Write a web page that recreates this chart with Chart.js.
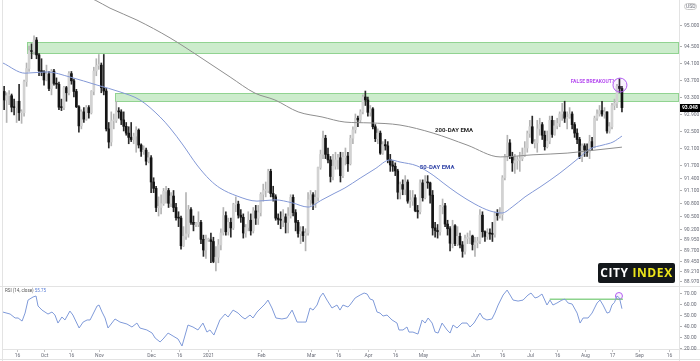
<!DOCTYPE html>
<html>
<head>
<meta charset="UTF-8">
<title>US Dollar Index - daily</title>
<script src="https://cdn.jsdelivr.net/npm/chart.js"></script>
<style>
  html, body { margin: 0; padding: 0; background: #fff; }
  #wrap { position: relative; width: 700px; height: 361px; overflow: hidden; }
  #priceChart { position: absolute; left: 0; top: 0; }
  #rsiChart { position: absolute; left: 0; top: 286px; }
</style>
</head>
<body>
<div id="wrap">
  <canvas id="priceChart" width="700" height="286"></canvas>
  <canvas id="rsiChart" width="700" height="75"></canvas>
</div>
<script>
// daily candles, index 0 = 7 Sep 2020 (one slot per weekday)
const opens = [
  92.74, 93.04, 93.43, 93.23, 93.33, 93.33, 93.06, 93.05, 93.20, 92.93,
  92.93, 93.66, 93.97, 94.39, 94.37, 94.64, 94.29, 93.92, 93.89, 93.70,
  93.84, 93.50, 93.91, 93.62, 93.60, 93.06, 93.05, 93.52, 93.40, 93.85,
  93.68, 93.43, 93.07, 92.62, 92.95, 92.78, 93.05, 92.93, 93.43, 93.91,
  94.04, 94.05, 93.52, 93.44, 92.55, 92.24, 92.74, 92.75, 92.97, 92.95,
  92.76, 92.61, 92.45, 92.35, 92.30, 92.38, 92.52, 92.17, 92.02, 92.05,
  91.79, 91.87, 91.30, 91.15, 90.70, 90.70, 90.79, 91.08, 91.10, 90.80,
  90.97, 90.70, 90.46, 90.45, 89.80, 90.02, 90.08, 90.65, 90.35, 90.30,
  90.30, 90.35, 89.95, 89.70, 89.94, 89.94, 89.90, 89.43, 89.53, 89.82,
  90.10, 90.51, 90.13, 90.35, 90.22, 90.77, 90.78, 90.52, 90.47, 90.10,
  90.23, 90.40, 90.15, 90.62, 90.45, 90.58, 91.01, 91.10, 91.10, 91.55,
  91.03, 90.95, 90.45, 90.42, 90.40, 90.48, 90.35, 90.50, 90.94, 90.58,
  90.35, 90.09, 90.13, 90.04, 90.10, 90.88, 91.00, 90.80, 90.94, 91.64,
  91.95, 92.33, 91.95, 91.82, 91.43, 91.67, 91.82, 91.87, 91.45, 91.88,
  91.91, 91.73, 92.33, 92.53, 92.80, 92.76, 92.95, 93.30, 93.23, 92.94,
  93.02, 92.60, 92.32, 92.45, 91.98, 92.18, 92.15, 91.83, 91.70, 91.67,
  91.56, 91.06, 91.24, 91.13, 91.30, 90.85, 90.85, 90.93, 90.63, 90.60,
  91.28, 90.93, 91.30, 91.28, 90.99, 90.22, 90.16, 90.13, 90.72, 90.74,
  90.31, 90.20, 89.86, 90.27, 89.85, 90.02, 89.82, 89.67, 89.97, 90.00,
  90.03, 89.83, 89.87, 89.91, 90.52, 90.13, 90.02, 90.09, 90.08, 90.07,
  90.56, 90.51, 90.53, 91.40, 91.90, 92.22, 91.90, 91.75, 91.80, 91.81,
  91.85, 91.94, 92.10, 92.44, 92.60, 92.22, 92.22, 92.55, 92.65, 92.40,
  92.13, 92.26, 92.75, 92.42, 92.62, 92.68, 92.90, 92.95, 92.80, 92.82,
  92.90, 92.65, 92.45, 92.30, 91.90, 92.15, 92.05, 92.00, 92.25, 92.12,
  92.80, 92.90, 92.98, 92.90, 92.95, 92.50, 92.60, 93.10, 93.15, 93.55,
  93.50
];
const highs = [
  93.08, 93.50, 93.55, 93.40, 93.45, 93.37, 93.25, 93.15, 93.60, 93.00,
  93.70, 94.10, 94.50, 94.55, 94.74, 94.70, 94.32, 94.20, 93.92, 94.05,
  93.90, 93.95, 93.95, 93.75, 93.65, 93.25, 93.55, 93.55, 93.90, 93.90,
  93.72, 93.48, 93.10, 93.00, 93.05, 93.10, 93.10, 93.45, 94.00, 94.20,
  94.30, 94.10, 94.30, 93.50, 92.70, 92.95, 92.90, 93.20, 93.05, 93.00,
  92.95, 92.70, 92.60, 92.70, 92.45, 92.60, 92.55, 92.20, 92.15, 92.10,
  92.00, 91.92, 91.40, 91.20, 90.95, 91.00, 91.15, 91.20, 91.15, 91.05,
  91.10, 90.80, 90.60, 90.50, 90.25, 91.05, 90.75, 90.70, 90.50, 90.35,
  90.60, 90.40, 90.05, 90.05, 89.98, 90.10, 90.00, 89.78, 89.95, 90.20,
  90.70, 90.60, 90.45, 90.45, 90.80, 90.95, 90.85, 90.65, 90.55, 90.30,
  90.60, 90.55, 90.70, 90.75, 90.75, 91.05, 91.25, 91.30, 91.60, 91.60,
  91.20, 91.00, 90.55, 90.60, 90.65, 90.55, 90.70, 91.00, 91.00, 90.65,
  90.40, 90.25, 90.25, 90.20, 91.05, 91.10, 91.05, 91.10, 91.65, 92.05,
  92.50, 92.40, 92.10, 91.90, 91.95, 92.00, 91.95, 92.00, 92.00, 92.10,
  92.00, 92.40, 92.60, 92.90, 92.85, 93.00, 93.35, 93.44, 93.30, 93.10,
  93.05, 92.65, 92.55, 92.50, 92.25, 92.30, 92.25, 91.95, 91.80, 91.75,
  91.60, 91.30, 91.35, 91.45, 91.35, 91.10, 91.10, 91.00, 90.75, 91.35,
  91.35, 91.45, 91.45, 91.30, 91.10, 90.35, 90.30, 90.75, 90.90, 90.80,
  90.40, 90.25, 90.40, 90.30, 90.25, 90.10, 89.90, 90.05, 90.10, 90.15,
  90.05, 90.00, 90.00, 90.65, 90.60, 90.15, 90.20, 90.20, 90.35, 90.60,
  90.65, 90.70, 91.45, 91.95, 92.40, 92.30, 92.00, 91.95, 91.90, 92.00,
  92.10, 92.25, 92.50, 92.75, 92.85, 92.30, 92.75, 92.80, 92.70, 92.50,
  92.50, 92.85, 92.85, 92.75, 92.80, 92.95, 93.15, 93.20, 92.95, 93.05,
  92.95, 92.70, 92.55, 92.35, 92.20, 92.20, 92.20, 92.40, 92.35, 92.85,
  93.00, 93.10, 93.20, 93.05, 92.95, 92.70, 93.15, 93.25, 93.60, 93.73,
  93.55
];
const lows = [
  92.70, 92.95, 93.00, 92.70, 93.12, 92.95, 92.88, 92.70, 92.75, 92.68,
  92.85, 93.55, 93.90, 94.20, 94.30, 94.20, 93.80, 93.80, 93.58, 93.68,
  93.45, 93.35, 93.58, 93.50, 93.00, 92.98, 93.00, 93.20, 93.35, 93.60,
  93.30, 93.05, 92.47, 92.55, 92.70, 92.75, 92.80, 92.90, 93.35, 93.80,
  93.95, 93.40, 93.35, 92.50, 92.10, 92.15, 92.55, 92.70, 92.80, 92.65,
  92.50, 92.40, 92.20, 92.25, 92.20, 92.00, 92.10, 91.90, 91.95, 91.70,
  91.75, 91.05, 91.05, 90.60, 90.50, 90.55, 90.75, 90.80, 90.70, 90.72,
  90.60, 90.40, 90.25, 89.72, 89.78, 89.95, 90.00, 90.30, 90.15, 90.25,
  90.25, 89.85, 89.55, 89.50, 89.90, 89.40, 89.40, 89.21, 89.40, 89.70,
  90.05, 90.05, 90.05, 90.00, 90.18, 90.60, 90.45, 90.35, 89.98, 90.00,
  90.15, 90.05, 90.10, 90.30, 90.30, 90.50, 90.85, 90.95, 91.05, 90.95,
  90.85, 90.40, 90.30, 90.20, 90.25, 90.10, 90.10, 90.45, 90.50, 90.15,
  90.00, 89.85, 89.90, 89.68, 90.05, 90.75, 90.65, 90.70, 90.85, 91.60,
  91.85, 91.85, 91.75, 91.30, 91.35, 91.60, 91.60, 91.30, 91.40, 91.70,
  91.55, 91.70, 92.20, 92.45, 92.60, 92.70, 92.90, 93.10, 92.85, 92.85,
  92.55, 92.25, 92.20, 91.95, 91.95, 92.05, 91.75, 91.55, 91.55, 91.45,
  90.90, 90.90, 91.00, 91.00, 90.80, 90.70, 90.75, 90.60, 90.45, 90.55,
  90.85, 90.90, 91.15, 90.80, 90.05, 90.00, 89.98, 90.05, 90.55, 90.25,
  90.05, 89.68, 89.75, 89.80, 89.80, 89.75, 89.53, 89.60, 89.85, 89.85,
  89.70, 89.55, 89.75, 89.85, 90.00, 89.90, 89.95, 89.95, 89.90, 90.00,
  90.40, 90.45, 90.40, 91.35, 91.80, 91.85, 91.55, 91.50, 91.60, 91.55,
  91.80, 91.90, 92.00, 92.35, 92.20, 92.10, 92.00, 92.40, 92.30, 92.05,
  92.10, 92.20, 92.35, 92.40, 92.55, 92.60, 92.75, 92.70, 92.55, 92.80,
  92.55, 92.35, 92.20, 91.85, 91.78, 91.90, 91.90, 91.85, 92.05, 92.10,
  92.75, 92.85, 92.85, 92.80, 92.45, 92.45, 92.55, 93.00, 93.05, 93.40,
  92.95
];
const closes = [
  93.04, 93.43, 93.23, 93.33, 93.33, 93.06, 93.05, 93.20, 92.93, 92.93,
  93.66, 93.97, 94.39, 94.37, 94.64, 94.29, 93.92, 93.89, 93.70, 93.84,
  93.50, 93.91, 93.62, 93.60, 93.06, 93.05, 93.52, 93.40, 93.85, 93.68,
  93.43, 93.07, 92.62, 92.95, 92.78, 93.05, 92.93, 93.43, 93.91, 94.04,
  94.05, 93.52, 93.44, 92.55, 92.24, 92.74, 92.75, 92.97, 92.95, 92.76,
  92.61, 92.45, 92.35, 92.30, 92.38, 92.52, 92.17, 92.02, 92.05, 91.79,
  91.87, 91.30, 91.15, 90.70, 90.70, 90.79, 91.08, 91.10, 90.80, 90.97,
  90.70, 90.46, 90.45, 89.80, 90.02, 90.08, 90.65, 90.35, 90.30, 90.30,
  90.35, 89.95, 89.70, 89.94, 89.94, 89.90, 89.43, 89.53, 89.82, 90.10,
  90.51, 90.13, 90.35, 90.22, 90.77, 90.78, 90.52, 90.47, 90.10, 90.23,
  90.40, 90.15, 90.62, 90.45, 90.58, 91.01, 91.10, 91.10, 91.55, 91.03,
  90.95, 90.45, 90.42, 90.40, 90.48, 90.35, 90.50, 90.94, 90.58, 90.35,
  90.09, 90.13, 90.04, 90.10, 90.88, 91.00, 90.80, 90.94, 91.64, 91.95,
  92.33, 91.95, 91.82, 91.43, 91.67, 91.82, 91.87, 91.45, 91.88, 91.91,
  91.73, 92.33, 92.53, 92.80, 92.76, 92.95, 93.30, 93.23, 92.94, 93.02,
  92.60, 92.32, 92.45, 91.98, 92.18, 92.15, 91.83, 91.70, 91.67, 91.56,
  91.06, 91.24, 91.13, 91.30, 90.85, 90.85, 90.93, 90.63, 90.60, 91.28,
  90.93, 91.30, 91.28, 90.99, 90.22, 90.16, 90.13, 90.72, 90.74, 90.31,
  90.20, 89.86, 90.27, 89.85, 90.02, 89.82, 89.67, 89.97, 90.00, 90.03,
  89.83, 89.87, 89.91, 90.52, 90.13, 90.02, 90.09, 90.08, 90.07, 90.56,
  90.51, 90.53, 91.40, 91.90, 92.22, 91.90, 91.75, 91.80, 91.81, 91.85,
  91.94, 92.10, 92.44, 92.60, 92.22, 92.22, 92.55, 92.65, 92.40, 92.13,
  92.26, 92.75, 92.42, 92.62, 92.68, 92.90, 92.95, 92.80, 92.82, 92.90,
  92.65, 92.45, 92.30, 91.90, 92.15, 92.05, 92.00, 92.25, 92.12, 92.80,
  92.90, 92.98, 92.90, 92.95, 92.50, 92.60, 93.10, 93.15, 93.55, 93.50,
  93.05
];
const lastPriceText = '93.048';

// moving averages (trading-day index -> value)
const ema200Idx = [30.4, 38.5, 44.5, 55.3, 68.6, 80.6, 92.7, 102.7, 110.7, 120, 129.6, 138.8, 148.9, 160.9, 174.2, 187.8, 201.1, 214.3, 228, 236, 250];
const ema200Val = [95.77, 95.58, 95.39, 95.11, 94.69, 94.24, 93.77, 93.39, 93.23, 92.95, 92.83, 92.71, 92.69, 92.64, 92.45, 92.17, 91.89, 91.94, 91.98, 92.03, 92.12];
const ema50Idx = [1.5, 10.4, 19.2, 28.4, 39.3, 48.5, 56.5, 64.6, 68.6, 73.8, 79.4, 84.6, 88.6, 95.5, 103.5, 110.7, 117.6, 124, 129.6, 134.8, 138.8, 144.9, 150.9, 156.9, 160.9, 167.7, 174.2, 178.2, 183.8, 191, 197, 201.9, 205.9, 211.1, 217.1, 225.1, 233.2, 237.2, 242.4, 246.4, 250];
const ema50Val = [94.10, 93.86, 93.89, 93.77, 93.58, 93.42, 93.23, 92.83, 92.57, 92.17, 91.70, 91.35, 91.16, 90.97, 90.85, 90.88, 90.81, 90.71, 90.88, 91.04, 91.16, 91.39, 91.61, 91.82, 91.77, 91.68, 91.46, 91.28, 91.04, 90.78, 90.62, 90.57, 90.71, 90.95, 91.18, 91.51, 91.89, 92.08, 92.17, 92.24, 92.38];

// RSI (14)
const rsiIdx = [1.5, 4.4, 6.4, 7.6, 9.2, 10.4, 11.6, 13.6, 14.8, 15.6, 17.2, 18.4, 19.6, 21.2, 22.4, 23.6, 25.2, 26.4, 28.4, 29.6,
  32.1, 33.7, 35.3, 36.5, 39.3, 40.1, 41.3, 42.5, 43.7, 46.5, 48.5, 51.3, 53.3, 55.3, 56.5, 59.3, 61.4, 62.6, 64.6, 65.8,
  67.8, 69.8, 71.8, 73.4, 75.8, 77.8, 79.8, 81.8, 83.4, 84.6, 86.2, 88.6, 90.7, 91.9, 93.9, 95.9, 97.5, 98.7, 100.7, 101.9,
  103.5, 105.5, 106.7, 107.9, 109.5, 111.1, 113.5, 115.5, 117.6, 119.6, 121.6, 123.2, 124.8, 126, 127.6, 128.8, 130, 131.6, 133.6, 135.6,
  136.8, 138, 140, 140.8, 142.9, 144.9, 146.5, 147.7, 148.9, 150.1, 151.7, 152.9, 154.1, 155.7, 157.7, 159.7, 160.5, 162.1, 163.7, 164.5,
  166.1, 168.1, 169.8, 171, 172.2, 173.8, 175, 176.2, 177.8, 179.8, 181, 182.2, 183.8, 185.8, 187.8, 189, 190.6, 193, 194.2, 195.8,
  197.8, 199, 200.3, 202.3, 203.9, 205.1, 206.3, 208.3, 210.3, 212.3, 213.5, 215.1, 216.3, 217.9, 219.9, 221.1, 222.3, 223.9, 225.9, 227.1,
  228.4, 230, 232, 233.2, 234.4, 236.4, 238, 240, 241.2, 242.4, 244, 245, 246, 247, 248, 249, 250];
const rsiVal = [52.7, 50.9, 47.3, 47.3, 44.5, 51.8, 63.6, 66.4, 67.3, 58.2, 54.5, 52.7, 50.9, 52.7, 50.0, 42.7, 48.2, 45.5, 53.6, 50.0,
  38.2, 43.6, 45.5, 45.5, 58.2, 59.1, 52.7, 47.3, 38.2, 46.4, 43.6, 41.8, 39.1, 42.7, 38.2, 36.4, 33.6, 29.1, 25.5, 28.2,
  33.6, 30.9, 28.2, 21.8, 40.9, 39.1, 36.4, 42.7, 34.5, 36.4, 31.8, 45.5, 50.9, 48.2, 54.5, 51.8, 48.2, 46.4, 50.0, 47.3,
  52.7, 57.3, 60.0, 63.6, 56.4, 47.3, 46.4, 47.3, 54.5, 43.6, 43.6, 43.6, 56.4, 54.5, 59.1, 66.4, 70.0, 63.6, 56.4, 59.1,
  54.5, 59.1, 57.3, 59.1, 65.5, 68.2, 70.0, 69.1, 64.5, 63.6, 52.7, 51.8, 49.1, 50.0, 45.5, 42.7, 36.4, 36.4, 39.1, 34.5,
  34.5, 32.7, 45.5, 42.7, 47.3, 42.7, 34.5, 33.6, 42.7, 36.4, 33.6, 40.9, 38.2, 42.7, 42.7, 39.1, 42.7, 51.8, 47.3, 45.5,
  46.4, 51.8, 59.1, 68.2, 72.7, 68.2, 63.6, 62.7, 63.6, 68.2, 70.0, 65.5, 66.4, 69.1, 59.1, 63.6, 59.1, 60.9, 63.6, 64.5,
  60.9, 60.0, 51.8, 42.7, 47.3, 47.3, 51.8, 60.9, 63.6, 59.1, 51.8, 52.5, 59.1, 61.5, 67.3, 65.5, 55.75];
const rsiLastText = '55.75';

// annotations: supply zones, divergence line, circled highs
const zoneFrom = [11.2, 46.5];
const zoneLow = [94.31, 93.18];
const zoneHigh = [94.59, 93.39];
const rsiLineIdx = [221, 250.4];
const rsiLineVal = [64.3, 64.3];
const priceCircle = { x: 249.2, y: 93.58 };
const rsiCircle = { x: 248.8, y: 67.3 };

// axes
const priceTicks = [95.000, 94.500, 94.100, 93.700, 93.300, 92.900, 92.500, 92.100, 91.700, 91.400, 91.100, 90.800, 90.500, 90.200, 89.950, 89.700, 89.450, 89.210, 88.970];
const rsiTicks = [70, 60, 50, 40, 30, 20];
const xTickIdx = [7, 18, 29, 40, 61, 72, 84, 105, 125, 136, 148, 159, 170, 191, 202, 213, 224, 235, 246, 257, 269];
const xTickText = ['16', 'Oct', '16', 'Nov', 'Dec', '16', '2021', 'Feb', 'Mar', '16', 'Apr', '16', 'May', 'Jun', '16', 'Jul', '16', 'Aug', '17', 'Sep', '16'];

const X_MIN = 1.54, X_MAX = 272.9;
const AXIS_FONT = '5px Roboto';
const AXIS_COLOR = '#6a6d78';
const LINE_COLOR = '#e3e3e3';

function isUp(i) { return closes[i] >= opens[i]; }

const wickData = highs.map((h, i) => ({ x: i, y: [lows[i], h] }));
const bodyData = opens.map((o, i) => ({ x: i, y: [o, closes[i]] }));
const toPts = (xs, ys) => xs.map((x, i) => ({ x: x, y: ys[i] }));

function frame(ctx, chart) {
  // left border and right axis line
  ctx.strokeStyle = LINE_COLOR;
  ctx.lineWidth = 1;
  ctx.beginPath();
  ctx.moveTo(2.5, 0); ctx.lineTo(2.5, chart.height);
  ctx.moveTo(679.5, 0); ctx.lineTo(679.5, chart.height);
  ctx.stroke();
}

const priceDecor = {
  id: 'priceDecor',
  beforeDatasetsDraw(chart) {
    const { ctx, chartArea: a, scales: { x, y } } = chart;
    ctx.save();
    for (let i = 0; i < zoneFrom.length; i++) {
      const x0 = Math.round(x.getPixelForValue(zoneFrom[i]));
      const y0 = Math.round(y.getPixelForValue(zoneHigh[i]));
      const y1 = Math.round(y.getPixelForValue(zoneLow[i]));
      ctx.fillStyle = 'rgba(122, 206, 122, 0.38)';
      ctx.fillRect(x0, y0, a.right - x0, y1 - y0);
      ctx.strokeStyle = 'rgba(96, 190, 96, 0.55)';
      ctx.lineWidth = 1;
      ctx.strokeRect(x0 + 0.5, y0 + 0.5, a.right - x0 - 1, y1 - y0 - 1);
    }
    ctx.restore();
  },
  afterDraw(chart) {
    const { ctx, scales: { x, y } } = chart;
    ctx.save();
    frame(ctx, chart);

    // price axis labels
    ctx.font = AXIS_FONT;
    ctx.textBaseline = 'middle';
    ctx.textAlign = 'left';
    priceTicks.forEach(v => {
      const py = Math.round(y.getPixelForValue(v)) + 0.5;
      ctx.strokeStyle = '#b0b0b0';
      ctx.beginPath(); ctx.moveTo(680, py); ctx.lineTo(682, py); ctx.stroke();
      ctx.fillStyle = AXIS_COLOR;
      ctx.fillText(v.toFixed(3), 684, py);
    });
    // currency tag at the top
    ctx.strokeStyle = '#c8c8c8';
    ctx.beginPath();
    ctx.roundRect(684.5, 3.5, 12, 6, 3);
    ctx.stroke();
    ctx.fillStyle = AXIS_COLOR;
    ctx.fillText('USD', 686, 6.5);

    // last price box
    const ly = y.getPixelForValue(closes[closes.length - 1]);
    ctx.fillStyle = '#000';
    ctx.fillRect(680, Math.round(ly) - 4, 20, 8);
    ctx.fillStyle = '#fff';
    ctx.font = 'bold 5px Roboto';
    ctx.fillText(lastPriceText, 682, Math.round(ly));

    // annotation texts
    ctx.textAlign = 'center';
    ctx.font = 'bold 6px Roboto';
    ctx.fillStyle = '#2b2b2b';
    ctx.fillText('200-DAY EMA', x.getPixelForValue(182.6), y.getPixelForValue(92.52));
    ctx.fillStyle = '#3547a8';
    ctx.fillText('50-DAY EMA', x.getPixelForValue(175.8), y.getPixelForValue(91.63));
    ctx.font = 'bold 5px Roboto';
    ctx.fillStyle = '#b64cf0';
    ctx.fillText('FALSE BREAKOUT?', x.getPixelForValue(238.2), y.getPixelForValue(93.66));

    // CITY INDEX badge
    ctx.fillStyle = '#14181b';
    ctx.beginPath();
    ctx.roundRect(598, 263, 77, 20, 2);
    ctx.fill();
    ctx.font = 'bold 12px "Open Sans"';
    ctx.textAlign = 'left';
    ctx.textBaseline = 'middle';
    if ('letterSpacing' in ctx) ctx.letterSpacing = '0.6px';
    const w1 = ctx.measureText('CITY ').width;
    const w2 = ctx.measureText('INDEX').width;
    const sx = 598 + (77 - w1 - w2) / 2;
    ctx.fillStyle = '#ffffff';
    ctx.fillText('CITY ', sx, 273.5);
    ctx.fillStyle = '#ece51a';
    ctx.fillText('INDEX', sx + w1, 273.5);
    ctx.restore();
  }
};

const rsiDecor = {
  id: 'rsiDecor',
  afterDraw(chart) {
    const { ctx, chartArea: a, scales: { x, y } } = chart;
    ctx.save();
    frame(ctx, chart);
    ctx.strokeStyle = LINE_COLOR;
    ctx.beginPath();
    ctx.moveTo(0, 0.5); ctx.lineTo(700, 0.5);
    ctx.moveTo(2.5, a.bottom + 0.5); ctx.lineTo(700, a.bottom + 0.5);
    ctx.moveTo(0, 73.5); ctx.lineTo(700, 73.5);
    ctx.stroke();

    ctx.font = AXIS_FONT;
    ctx.textBaseline = 'middle';
    ctx.textAlign = 'left';
    rsiTicks.forEach(v => {
      const py = Math.round(y.getPixelForValue(v)) + 0.5;
      ctx.strokeStyle = '#b0b0b0';
      ctx.beginPath(); ctx.moveTo(680, py); ctx.lineTo(682, py); ctx.stroke();
      ctx.fillStyle = AXIS_COLOR;
      ctx.fillText(v.toFixed(2), 684, py);
    });

    // time axis
    ctx.textAlign = 'center';
    xTickIdx.forEach((idx, i) => {
      const px = Math.round(x.getPixelForValue(idx)) + 0.5;
      ctx.strokeStyle = '#c4c4c4';
      ctx.beginPath(); ctx.moveTo(px, a.bottom + 1); ctx.lineTo(px, a.bottom + 3); ctx.stroke();
      ctx.fillStyle = AXIS_COLOR;
      ctx.fillText(xTickText[i], px, a.bottom + 6.5);
    });

    // legend
    ctx.textAlign = 'left';
    ctx.font = '4.5px Roboto';
    ctx.fillStyle = '#555';
    const lbl = 'RSI (14, close) ';
    ctx.fillText(lbl, 5, 4.5);
    ctx.fillStyle = '#5b7fd6';
    ctx.fillText(rsiLastText, 5 + ctx.measureText(lbl).width, 4.5);
    ctx.restore();
  }
};

const common = {
  responsive: false,
  animation: false,
  events: [],
  plugins: { legend: { display: false }, tooltip: { enabled: false } }
};

new Chart(document.getElementById('priceChart'), {
  type: 'bar',
  data: {
    datasets: [
      {
        label: 'wick', data: wickData, grouped: false, barThickness: 1, order: 3,
        backgroundColor: c => isUp(c.dataIndex) ? '#b4b4b4' : '#2a2a2a'
      },
      {
        label: 'body', data: bodyData, grouped: false, barThickness: 2, minBarLength: 1, order: 2,
        backgroundColor: c => isUp(c.dataIndex) ? '#d2d2d2' : '#141414'
      },
      {
        type: 'line', label: '200-day EMA', data: toPts(ema200Idx, ema200Val), order: 1,
        borderColor: '#8f8f8f', borderWidth: 1, pointRadius: 0, cubicInterpolationMode: 'monotone'
      },
      {
        type: 'line', label: '50-day EMA', data: toPts(ema50Idx, ema50Val), order: 1,
        borderColor: '#8398d6', borderWidth: 1, pointRadius: 0, cubicInterpolationMode: 'monotone'
      },
      {
        type: 'line', label: 'circle', data: [priceCircle], showLine: false, order: 0,
        pointRadius: 7, pointBorderWidth: 1, pointBorderColor: '#b25cf2',
        pointBackgroundColor: 'rgba(178, 92, 242, 0.08)'
      }
    ]
  },
  options: Object.assign({}, common, {
    layout: { autoPadding: false, padding: { left: 3, right: 21, top: 0, bottom: 0 } },
    scales: {
      x: { type: 'linear', min: X_MIN, max: X_MAX, offset: false, display: false },
      y: { min: 88.853, max: 95.582, display: false }
    },
    datasets: { bar: { clip: 0 }, line: { clip: 0 } }
  }),
  plugins: [priceDecor]
});

new Chart(document.getElementById('rsiChart'), {
  type: 'line',
  data: {
    datasets: [
      {
        label: 'RSI', data: toPts(rsiIdx, rsiVal),
        borderColor: '#7f9ad9', borderWidth: 1, pointRadius: 0, tension: 0
      },
      {
        label: 'divergence', data: toPts(rsiLineIdx, rsiLineVal),
        borderColor: 'rgba(112, 200, 112, 0.8)', borderWidth: 1.5, pointRadius: 0
      },
      {
        label: 'circle', data: [rsiCircle], showLine: false,
        pointRadius: 3.5, pointBorderWidth: 1, pointBorderColor: '#b25cf2',
        pointBackgroundColor: 'rgba(178, 92, 242, 0.08)'
      }
    ]
  },
  options: Object.assign({}, common, {
    layout: { autoPadding: false, padding: { left: 3, right: 21, top: 0, bottom: 12 } },
    scales: {
      x: { type: 'linear', min: X_MIN, max: X_MAX, offset: false, display: false },
      y: { min: 19.1, max: 76.4, display: false }
    }
  }),
  plugins: [rsiDecor]
});
</script>
</body>
</html>
